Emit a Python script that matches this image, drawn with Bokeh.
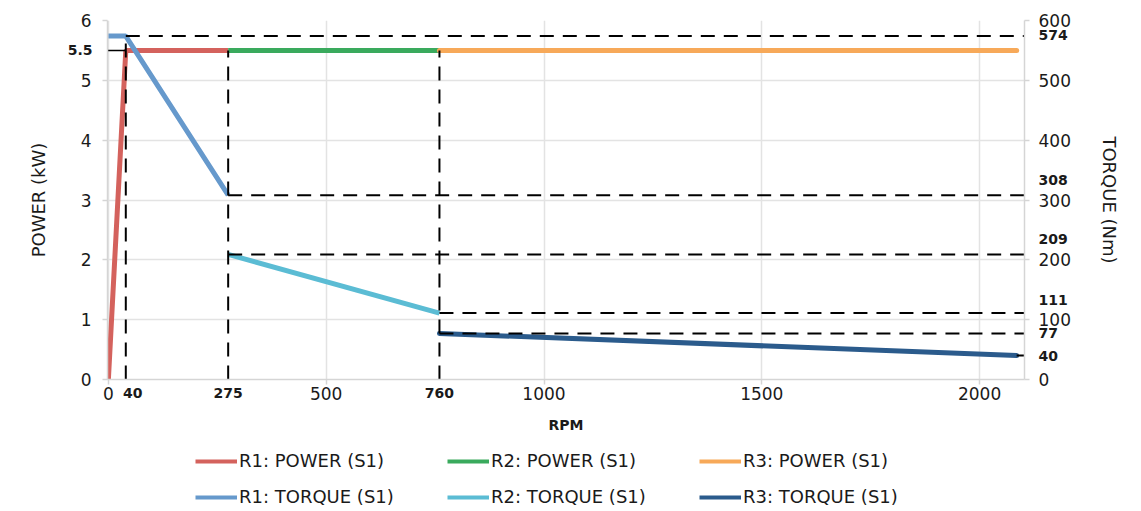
from bokeh.plotting import figure
from bokeh.layouts import column
from bokeh.models import Range1d, LinearAxis, FixedTicker, Legend, LegendItem
from bokeh.embed import file_html
from bokeh.resources import INLINE

# ---- data ----
rpm_r1_power = [0, 40, 275]
kw_r1_power = [0, 5.5, 5.5]
rpm_r2_power = [275, 760]
kw_r2_power = [5.5, 5.5]
rpm_r3_power = [760, 2085]
kw_r3_power = [5.5, 5.5]

rpm_r1_torque = [0, 40, 275]
nm_r1_torque = [574, 574, 308]
rpm_r2_torque = [275, 760]
nm_r2_torque = [209, 111]
rpm_r3_torque = [760, 2085]
nm_r3_torque = [77, 40]

x_ticks = [0, 500, 1000, 1500, 2000]
x_marks = [40, 275, 760]
kw_ticks = [0, 1, 2, 3, 4, 5, 6]
kw_mark = 5.5
nm_ticks = [0, 100, 200, 300, 400, 500, 600]
nm_marks = [574, 308, 209, 111, 77, 40]

series_names = ["R1: POWER (S1)", "R2: POWER (S1)", "R3: POWER (S1)",
                "R1: TORQUE (S1)", "R2: TORQUE (S1)", "R3: TORQUE (S1)"]

# ---- style ----
FONT = "DejaVu Sans"
XMIN, XMAX = -2, 2103
GRID = "#e3e3e3"
DASH = "14 9"
W = 5
COLORS = ["#d4625d", "#3aaa5d", "#f7a959", "#6699cc", "#5bbcd4", "#2b5b8c"]
FRAME_W, FRAME_H = 917, 359
PX_RPM = (XMAX - XMIN) / FRAME_W        # rpm per pixel
PX_NM = 600 / FRAME_H                   # Nm per pixel

p = figure(width=1141, height=440, output_backend="svg", toolbar_location=None,
           x_range=Range1d(XMIN, XMAX), y_range=Range1d(0, 6),
           min_border_left=107, min_border_right=117, min_border_top=20, min_border_bottom=61)
p.extra_y_ranges = {"torque": Range1d(0, 600)}
p.outline_line_color = None

p.xgrid.ticker = FixedTicker(ticks=x_ticks)
p.ygrid.ticker = FixedTicker(ticks=kw_ticks)
for g in (p.xgrid, p.ygrid):
    g.grid_line_color = GRID
    g.grid_line_width = 1.5

def style_axis(ax):
    ax.axis_line_color = "#d5d5d5"
    ax.axis_line_width = 1.5
    ax.major_tick_line_color = "#d5d5d5"
    ax.major_tick_line_width = 1.5
    ax.major_tick_in = 0
    ax.major_tick_out = 5
    ax.minor_tick_line_color = None
    ax.major_label_text_font = FONT
    ax.major_label_text_font_size = "17px"
    ax.major_label_text_color = "#1a1a1a"

def style_mark_axis(ax, standoff, title_standoff):
    ax.axis_line_color = None
    ax.major_tick_line_color = None
    ax.major_tick_in = 0
    ax.major_tick_out = 0
    ax.minor_tick_line_color = None
    ax.major_label_standoff = standoff
    ax.major_label_text_font = FONT
    ax.major_label_text_font_size = "14px"
    ax.major_label_text_font_style = "bold"
    ax.major_label_text_color = "#1a1a1a"
    ax.axis_label_text_font = FONT
    ax.axis_label_text_font_style = "normal"
    ax.axis_label_text_color = "#1a1a1a"
    ax.axis_label_text_font_size = "18px"
    ax.axis_label_standoff = title_standoff

# main axes (regular ticks)
xa = p.xaxis[0]
xa.ticker = FixedTicker(ticks=x_ticks)
style_axis(xa)
xa.major_label_standoff = 2

ya = p.yaxis[0]
ya.ticker = FixedTicker(ticks=kw_ticks)
style_axis(ya)
ya.major_label_standoff = 11

ra = LinearAxis(y_range_name="torque", ticker=FixedTicker(ticks=nm_ticks))
style_axis(ra)
ra.major_label_standoff = 9
p.add_layout(ra, "right")

# marker axes (bold values), drawn into the same label columns, carrying the titles
x_pos = [x_marks[0] + round(7 * PX_RPM)] + x_marks[1:]
bx = LinearAxis(ticker=FixedTicker(ticks=x_pos),
                major_label_overrides={t: str(v) for t, v in zip(x_pos, x_marks)},
                axis_label="RPM")
style_mark_axis(bx, -15, 16)
bx.axis_label_text_font_style = "bold"
bx.axis_label_text_font_size = "14px"
p.add_layout(bx, "below")

ly = LinearAxis(ticker=FixedTicker(ticks=[kw_mark]), major_label_overrides={kw_mark: str(kw_mark)},
                axis_label="POWER (kW)")
style_mark_axis(ly, -15, 16)
p.add_layout(ly, "left")

nm_shift = [1, 15, 15, 13, 0, 0]  # label lift in px to avoid overlaps
nm_pos = [v + round(s * PX_NM) for v, s in zip(nm_marks, nm_shift)]
ry = LinearAxis(y_range_name="torque", ticker=FixedTicker(ticks=nm_pos),
                major_label_overrides={t: str(v) for t, v in zip(nm_pos, nm_marks)},
                axis_label="TORQUE (Nm)")
style_mark_axis(ry, -35, 28)
p.add_layout(ry, "right")

# ---- series ----
p.line(rpm_r1_power, kw_r1_power, color=COLORS[0], line_width=W)
p.line(rpm_r2_power, kw_r2_power, color=COLORS[1], line_width=W)
p.line(rpm_r3_power, kw_r3_power, color=COLORS[2], line_width=W, line_cap="round")
p.line(rpm_r1_torque, nm_r1_torque, color=COLORS[3], line_width=W, y_range_name="torque")
p.line(rpm_r2_torque, nm_r2_torque, color=COLORS[4], line_width=W, y_range_name="torque")
p.line(rpm_r3_torque, nm_r3_torque, color=COLORS[5], line_width=W, y_range_name="torque", line_cap="round")

# dashed guides
p.segment(x0=[x_marks[0]], y0=[0], x1=[x_marks[0]], y1=[nm_r1_torque[0]], y_range_name="torque",
          line_color="black", line_width=2, line_dash=DASH)
p.segment(x0=x_marks[1:], y0=[0, 0], x1=x_marks[1:], y1=[kw_mark, kw_mark],
          line_color="black", line_width=2, line_dash=DASH)
starts = [rpm_r1_torque[1], rpm_r1_torque[2], rpm_r2_torque[0], rpm_r2_torque[1],
          rpm_r3_torque[0], rpm_r3_torque[1]]
p.segment(x0=starts, y0=nm_marks, x1=[XMAX] * len(nm_marks), y1=nm_marks, y_range_name="torque",
          line_color="black", line_width=2, line_dash=DASH)
p.segment(x0=[XMIN - 20], y0=[kw_mark], x1=[x_marks[0]], y1=[kw_mark],
          line_color="black", line_width=1.5)

# ---- legend figure ----
lf = figure(width=1141, height=70, output_backend="svg", toolbar_location=None,
            x_range=Range1d(0, 1), y_range=Range1d(0, 1), min_border=0,
            x_axis_location=None, y_axis_location=None)
lf.grid.visible = False
lf.outline_line_color = None
firsts = [(rpm_r1_power, kw_r1_power), (rpm_r2_power, kw_r2_power), (rpm_r3_power, kw_r3_power),
          (rpm_r1_torque, nm_r1_torque), (rpm_r2_torque, nm_r2_torque), (rpm_r3_torque, nm_r3_torque)]
rs = [lf.line(xs[:1], ys[:1], color=c, line_width=4) for (xs, ys), c in zip(firsts, COLORS)]

def mk_legend(idx, loc):
    return Legend(items=[LegendItem(label=series_names[i], renderers=[rs[i]]) for i in idx],
                  orientation="horizontal", location=loc,
                  label_text_font=FONT, label_text_font_size="18px", label_text_color="#1a1a1a",
                  glyph_width=42, glyph_height=18, label_height=18, label_width=190,
                  label_standoff=2, spacing=18, padding=2, margin=0,
                  border_line_color=None, background_fill_alpha=0)

lf.add_layout(mk_legend([0, 1, 2], (88, 39)))
lf.add_layout(mk_legend([3, 4, 5], (88, 3)))

open("out.html", "w").write(file_html(column(p, lf, spacing=0), INLINE))
